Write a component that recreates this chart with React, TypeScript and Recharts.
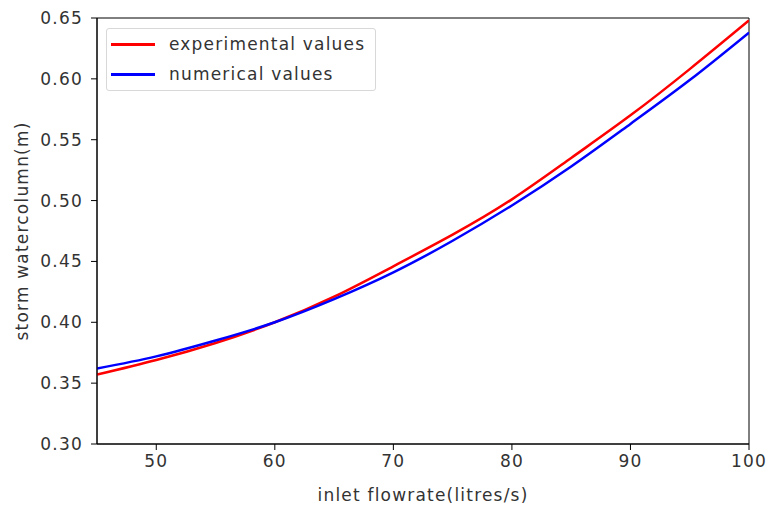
import {
  LineChart,
  Line,
  XAxis,
  YAxis,
  ReferenceArea,
} from "recharts";

const flowrates = [45, 50, 55, 60, 65, 70, 75, 80, 85, 90, 95, 100];
const experimental = [0.357, 0.369, 0.383, 0.400, 0.421, 0.446, 0.472, 0.501, 0.535, 0.570, 0.608, 0.648];
const numerical = [0.362, 0.372, 0.385, 0.400, 0.419, 0.441, 0.467, 0.496, 0.528, 0.563, 0.599, 0.638];
const xTicks = [50, 60, 70, 80, 90, 100];
const yTicks = [0.3, 0.35, 0.4, 0.45, 0.5, 0.55, 0.6, 0.65];

const SERIES = [
  { key: "experimental", name: "experimental values", color: "#ff0000" },
  { key: "numerical", name: "numerical values", color: "#0000ff" },
];

const data = flowrates.map((x, i) => ({
  x,
  experimental: experimental[i],
  numerical: numerical[i],
}));

const FONT = "DejaVu Sans, sans-serif";
const TEXT = { fill: "#333", fontSize: 17, fontFamily: FONT, letterSpacing: 1.2 };

function LegendBox() {
  return (
    <div
      style={{
        position: "absolute",
        left: 106,
        top: 28,
        width: 270,
        height: 63,
        boxSizing: "border-box",
        border: "1px solid #d8d8d8",
        borderRadius: 3,
        background: "#fff",
        padding: "0 0 0 4px",
        fontFamily: FONT,
        fontSize: 17,
        letterSpacing: 1.2,
        color: "#333",
      }}
    >
      {SERIES.map((s) => (
        <div
          key={s.key}
          style={{ display: "flex", alignItems: "center", height: 30 }}
        >
          <div
            style={{
              width: 44,
              height: 3,
              background: s.color,
              marginRight: 14,
            }}
          />
          <span>{s.name}</span>
        </div>
      ))}
    </div>
  );
}

export default function App() {
  return (
    <div
      style={{
        position: "absolute",
        left: 0,
        top: 0,
        width: 768,
        height: 506,
        overflow: "hidden",
        background: "#fff",
      }}
    >
      <LineChart
        width={768}
        height={506}
        data={data}
        margin={{ top: 18, right: 19, left: 0, bottom: 0 }}
      >
        <XAxis
          dataKey="x"
          type="number"
          domain={[45, 100]}
          ticks={xTicks}
          allowDataOverflow
          height={62}
          stroke="#000"
          tick={TEXT}
          tickSize={6}
          tickMargin={5}
          label={{
            value: "inlet flowrate(litres/s)",
            position: "insideBottom",
            offset: 5,
            ...TEXT,
          }}
        />
        <YAxis
          type="number"
          domain={[0.3, 0.65]}
          ticks={yTicks}
          allowDataOverflow
          width={97}
          stroke="#000"
          tickFormatter={(v: number) => v.toFixed(2)}
          tick={TEXT}
          tickSize={6}
          tickMargin={8}
          label={{
            value: "storm watercolumn(m)",
            angle: -90,
            position: "insideLeft",
            offset: 22,
            style: { textAnchor: "middle" },
            ...TEXT,
          }}
        />
        <ReferenceArea
          x1={45}
          x2={100}
          y1={0.3}
          y2={0.65}
          fill="none"
          stroke="#000"
          strokeWidth={1}
        />
        {SERIES.map((s) => (
          <Line
            key={s.key}
            type="natural"
            dataKey={s.key}
            name={s.name}
            stroke={s.color}
            strokeWidth={2.5}
            dot={false}
            isAnimationActive={false}
          />
        ))}
      </LineChart>
      <LegendBox />
    </div>
  );
}
